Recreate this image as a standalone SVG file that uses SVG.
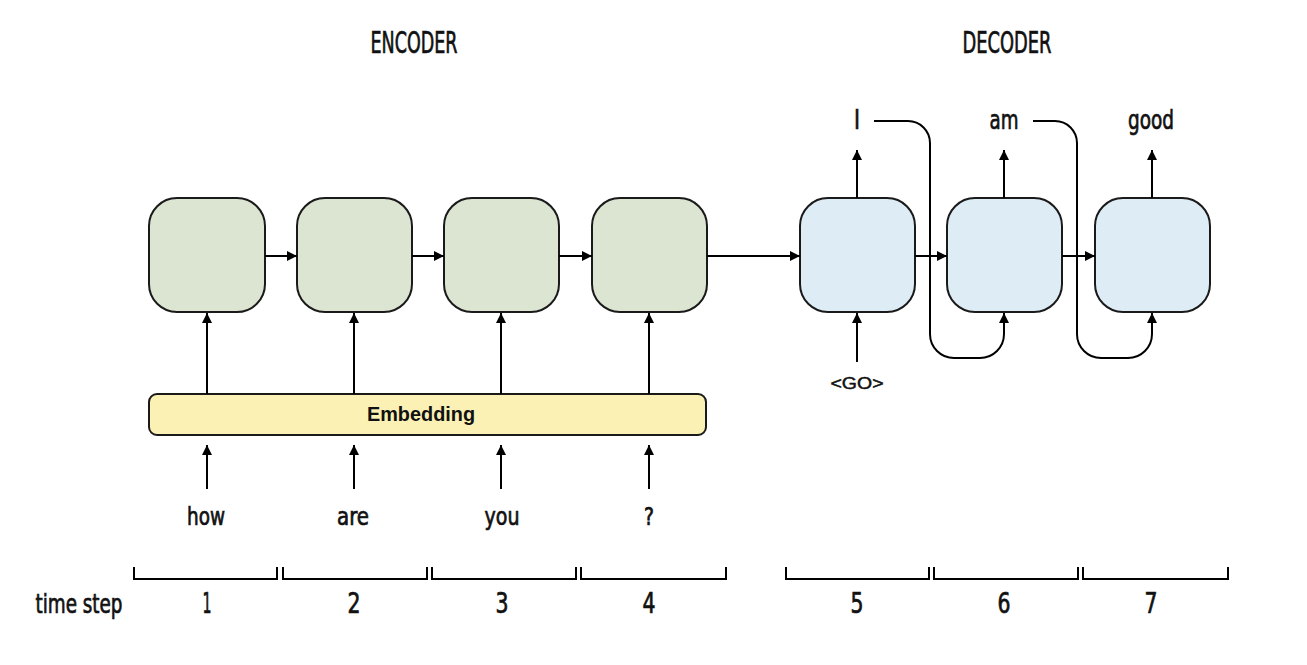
<svg xmlns="http://www.w3.org/2000/svg" width="1307" height="665" viewBox="0 0 1307 665">
<defs>
<marker id="ah" viewBox="0 0 10 10" refX="10" refY="5" markerWidth="10" markerHeight="10" markerUnits="userSpaceOnUse" orient="auto">
<path d="M0,0 L10,5 L0,10 z" fill="#000"/>
</marker>
<style>
.enc{fill:#dce4d2;stroke:#1a1a1a;stroke-width:2}
.dec{fill:#deedf5;stroke:#1a1a1a;stroke-width:2}
.emb{fill:#fbf1b5;stroke:#1a1a1a;stroke-width:2}
.ln{fill:none;stroke:#000;stroke-width:2}
.ar{fill:none;stroke:#000;stroke-width:2;marker-end:url(#ah)}
.t{font-family:"DejaVu Sans Condensed","Liberation Sans",sans-serif;fill:#111;stroke:#111;stroke-width:0.7;text-anchor:middle}
.b{font-family:"Liberation Sans",Arial,sans-serif;font-weight:bold;fill:#111;text-anchor:middle}
.g{font-family:"Liberation Sans",Arial,sans-serif;fill:#111;stroke:#111;stroke-width:0.5;text-anchor:middle}
</style>
</defs>
<rect width="1307" height="665" fill="#fff"/>

<g id="titles">
<text class="t" x="414" y="53" font-size="30" textLength="87" lengthAdjust="spacingAndGlyphs">ENCODER</text>
<text class="t" x="1007" y="53" font-size="30" textLength="89" lengthAdjust="spacingAndGlyphs">DECODER</text>
</g>

<g id="enc1"><rect class="enc" x="149" y="198" width="116" height="114" rx="28"/></g>
<g id="enc2"><rect class="enc" x="297" y="198" width="115" height="114" rx="28"/></g>
<g id="enc3"><rect class="enc" x="444" y="198" width="115" height="114" rx="28"/></g>
<g id="enc4"><rect class="enc" x="592" y="198" width="115" height="114" rx="28"/></g>

<g id="dec1"><rect class="dec" x="800" y="198" width="115" height="114" rx="28"/></g>
<g id="dec2"><rect class="dec" x="947" y="198" width="115" height="114" rx="28"/></g>
<g id="dec3"><rect class="dec" x="1095" y="198" width="115" height="114" rx="28"/></g>

<g id="embedding">
<rect class="emb" x="149" y="394" width="557" height="41" rx="8"/>
<text class="b" x="421" y="421" font-size="20" textLength="108" lengthAdjust="spacingAndGlyphs">Embedding</text>
</g>

<g id="connectors">
<line class="ar" x1="265" y1="256" x2="297" y2="256"/>
<line class="ar" x1="412" y1="256" x2="444" y2="256"/>
<line class="ar" x1="559" y1="256" x2="592" y2="256"/>
<line class="ar" x1="707" y1="256" x2="800" y2="256"/>
<line class="ar" x1="915" y1="256" x2="947" y2="256"/>
<line class="ar" x1="1062" y1="256" x2="1095" y2="256"/>

<line class="ar" x1="207" y1="394" x2="207" y2="313"/>
<line class="ar" x1="354" y1="394" x2="354" y2="313"/>
<line class="ar" x1="501" y1="394" x2="501" y2="313"/>
<line class="ar" x1="649" y1="394" x2="649" y2="313"/>

<line class="ar" x1="207" y1="489" x2="207" y2="445"/>
<line class="ar" x1="354" y1="489" x2="354" y2="445"/>
<line class="ar" x1="501" y1="489" x2="501" y2="445"/>
<line class="ar" x1="649" y1="489" x2="649" y2="445"/>

<line class="ar" x1="857" y1="198" x2="857" y2="150"/>
<line class="ar" x1="1004" y1="198" x2="1004" y2="150"/>
<line class="ar" x1="1152" y1="198" x2="1152" y2="150"/>

<line class="ar" x1="857" y1="362" x2="857" y2="313"/>

<path class="ar" d="M874 121 H908 A22 22 0 0 1 930 143 V334 A24 24 0 0 0 954 358 H980 A24 24 0 0 0 1004 334 V313"/>
<path class="ar" d="M1033 121 H1055 A22 22 0 0 1 1077 143 V334 A24 24 0 0 0 1101 358 H1128 A24 24 0 0 0 1152 334 V313"/>
</g>

<g id="outputs">
<text class="t" x="857" y="129" font-size="27" textLength="6" lengthAdjust="spacingAndGlyphs">I</text>
<text class="t" x="1004" y="129" font-size="27" textLength="29" lengthAdjust="spacingAndGlyphs">am</text>
<text class="t" x="1151" y="129" font-size="27" textLength="46" lengthAdjust="spacingAndGlyphs">good</text>
<text class="g" x="857" y="389" font-size="17" textLength="53" lengthAdjust="spacingAndGlyphs">&lt;GO&gt;</text>
</g>

<g id="inputs">
<text class="t" x="206" y="525" font-size="25" textLength="38" lengthAdjust="spacingAndGlyphs">how</text>
<text class="t" x="353" y="525" font-size="25" textLength="32" lengthAdjust="spacingAndGlyphs">are</text>
<text class="t" x="502" y="525" font-size="25" textLength="35" lengthAdjust="spacingAndGlyphs">you</text>
<text class="t" x="649" y="525" font-size="25" textLength="10" lengthAdjust="spacingAndGlyphs">?</text>
</g>

<g id="timesteps">
<path class="ln" d="M134 567 V579 H277 V567"/>
<path class="ln" d="M283 567 V579 H427 V567"/>
<path class="ln" d="M432 567 V579 H576 V567"/>
<path class="ln" d="M581 567 V579 H726 V567"/>
<path class="ln" d="M786 567 V579 H929 V567"/>
<path class="ln" d="M934 567 V579 H1078 V567"/>
<path class="ln" d="M1083 567 V579 H1228 V567"/>
<text class="t" x="79" y="613" font-size="27" textLength="87" lengthAdjust="spacingAndGlyphs">time step</text>
<text class="t" x="207" y="613" font-size="28" textLength="9" lengthAdjust="spacingAndGlyphs">1</text>
<text class="t" x="354" y="613" font-size="28" textLength="13" lengthAdjust="spacingAndGlyphs">2</text>
<text class="t" x="502" y="613" font-size="28" textLength="13" lengthAdjust="spacingAndGlyphs">3</text>
<text class="t" x="649" y="613" font-size="28" textLength="13" lengthAdjust="spacingAndGlyphs">4</text>
<text class="t" x="857" y="613" font-size="28" textLength="13" lengthAdjust="spacingAndGlyphs">5</text>
<text class="t" x="1004" y="613" font-size="28" textLength="13" lengthAdjust="spacingAndGlyphs">6</text>
<text class="t" x="1151" y="613" font-size="28" textLength="13" lengthAdjust="spacingAndGlyphs">7</text>
</g>
</svg>
